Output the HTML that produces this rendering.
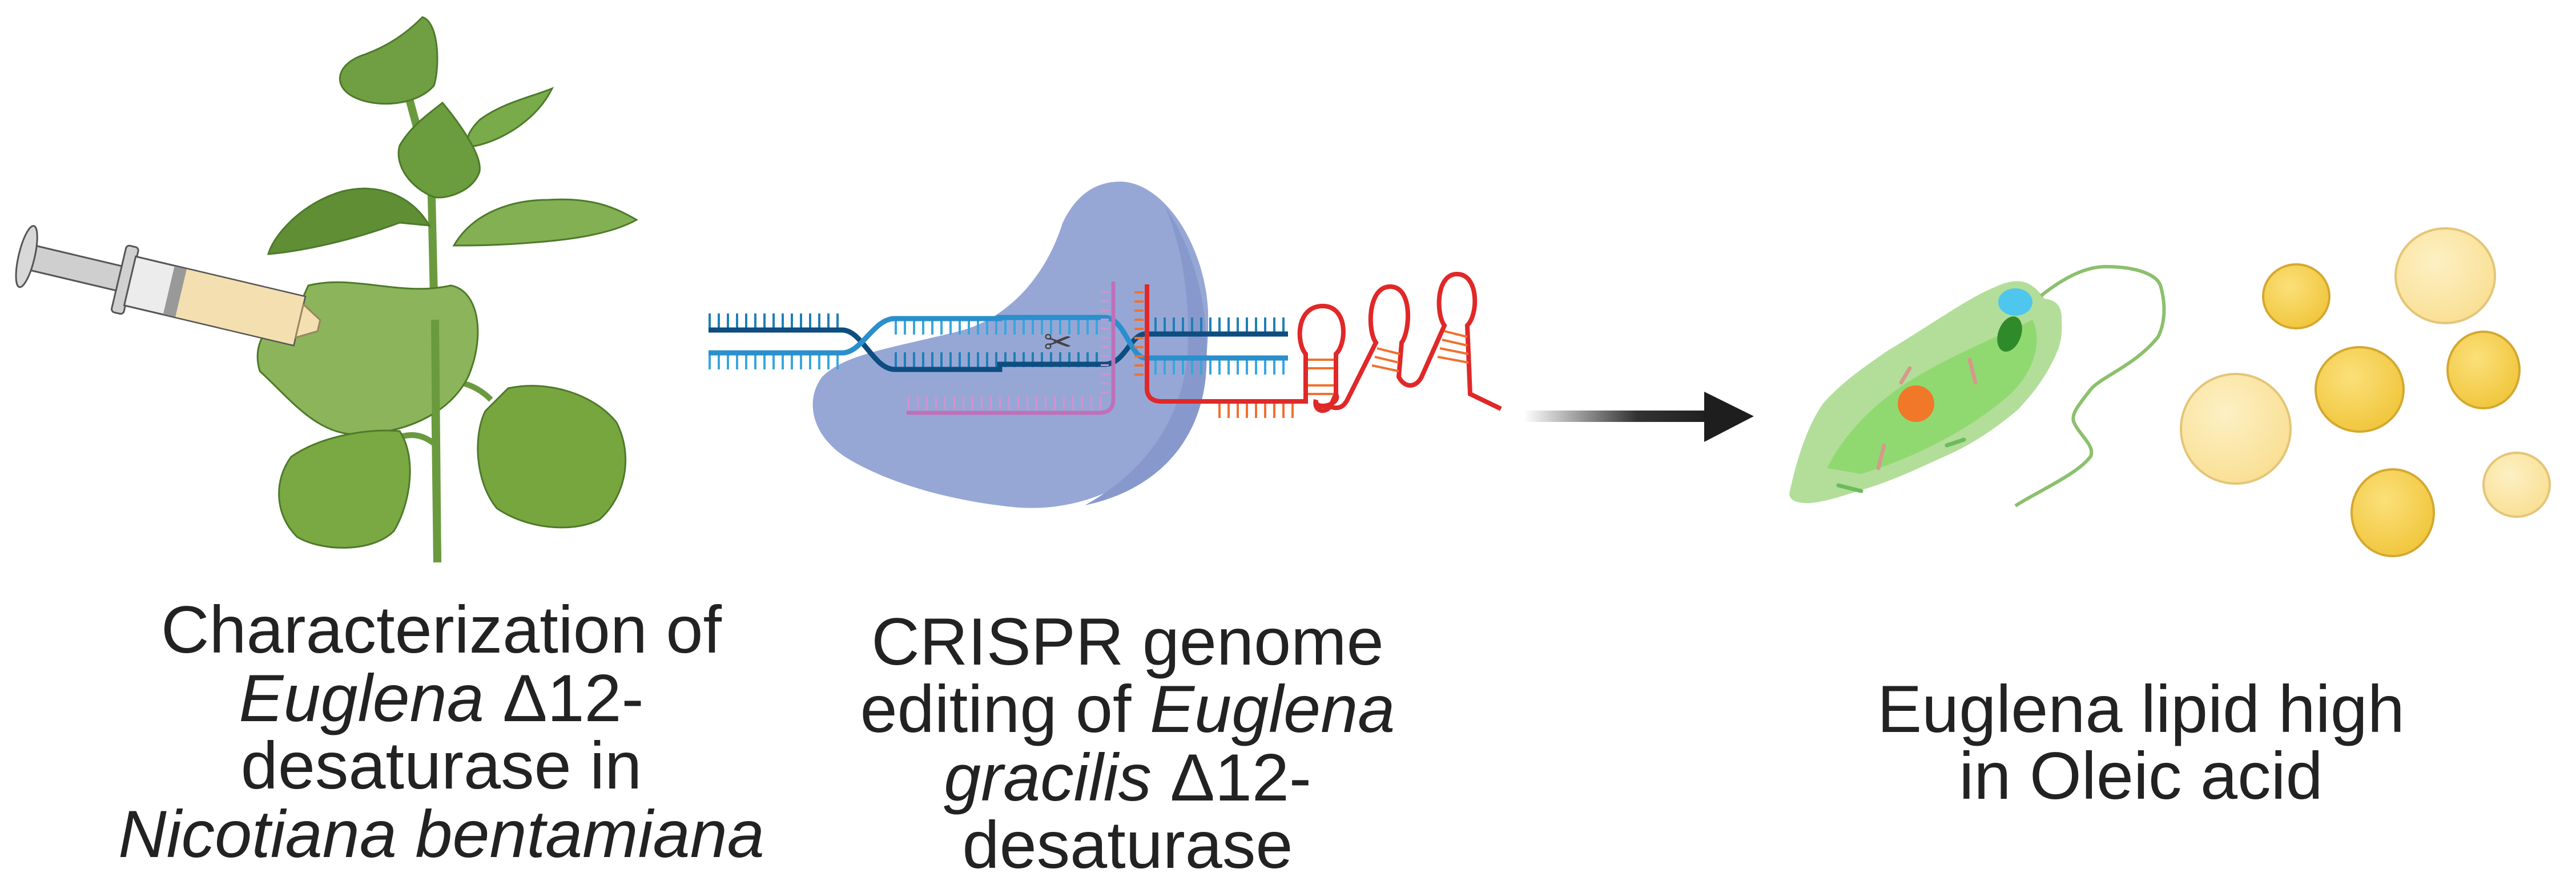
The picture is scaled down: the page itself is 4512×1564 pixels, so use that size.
<!DOCTYPE html>
<html><head><meta charset="utf-8"><style>
html,body{margin:0;padding:0;background:#fff;}
svg{display:block;}
text{font-family:"Liberation Sans",Arial,sans-serif;fill:#222;}
</style></head><body>
<svg width="4512" height="1564" viewBox="0 0 4512 1564" xmlns="http://www.w3.org/2000/svg">
<defs>
<linearGradient id="ag" x1="0" x2="1" y1="0" y2="0"><stop offset="0" stop-color="#fff"/><stop offset="0.6" stop-color="#333"/><stop offset="1" stop-color="#1e1e1e"/></linearGradient>
<radialGradient id="gold" cx="0.4" cy="0.35" r="0.7"><stop offset="0" stop-color="#fbe07a"/><stop offset="1" stop-color="#f0c53a"/></radialGradient>
<radialGradient id="pale" cx="0.4" cy="0.35" r="0.7"><stop offset="0" stop-color="#fdf0c4"/><stop offset="1" stop-color="#f9df92"/></radialGradient>
</defs>

<!-- PLANT -->
<path d="M766 985 L760 520 L756 344 L735 240 L713 159" fill="none" stroke="#6a9a3e" stroke-width="14"/>
<path d="M762 670 Q820 660 860 700" fill="none" stroke="#6a9a3e" stroke-width="10"/>
<path d="M764 780 Q730 750 690 770" fill="none" stroke="#6a9a3e" stroke-width="10"/>
<g stroke="#4d7a2a" stroke-width="3">
<path d="M740 30 C770 40 770 120 760 150 C730 185 660 190 620 170 C580 150 590 110 640 95 C680 80 710 60 740 30 Z" fill="#6f9f42"/>
<path d="M967 155 C930 170 880 180 840 210 C810 240 815 260 835 255 C880 245 940 210 967 155 Z" fill="#7aab4a"/>
<path d="M775 180 C800 210 845 270 840 300 C830 335 780 350 760 345 C720 330 690 290 700 255 C720 220 750 200 775 180 Z" fill="#6b9c3d"/>
<path d="M752 395 C720 340 660 320 600 335 C530 355 480 410 470 445 C530 440 620 420 700 390 Z" fill="#5f8e35"/>
<path d="M795 430 C830 370 900 350 960 350 C1040 345 1080 365 1115 385 C1070 410 1000 420 930 425 C870 430 830 430 795 430 Z" fill="#82b052"/>
<path d="M540 500 C620 480 700 520 790 500 C840 510 850 590 820 660 C790 720 720 755 640 760 C560 770 510 700 455 650 C440 600 470 560 520 545 Z" fill="#8cb45a"/>
<path d="M700 755 C730 800 720 880 690 930 C650 970 560 965 520 940 C480 900 480 840 510 800 C560 765 640 750 700 755 Z" fill="#7aa842"/>
<path d="M890 680 C960 665 1040 690 1080 740 C1110 800 1095 870 1050 910 C1000 935 920 925 870 890 C830 840 830 760 850 720 Z" fill="#78a63e"/>
</g>
<path d="M766 985 L762 560" stroke="#6a9a3e" stroke-width="14" fill="none"/>

<!-- SYRINGE -->
<g transform="translate(33,446) rotate(13.3)">
<rect x="12" y="-22" width="180" height="44" fill="#cfcfcf" stroke="#555" stroke-width="3"/>
<ellipse cx="14" cy="0" rx="14" ry="55" fill="#d8d8d8" stroke="#555" stroke-width="3"/>
<rect x="180" y="-60" width="22" height="120" rx="6" fill="#d0d0d0" stroke="#555" stroke-width="3"/>
<rect x="200" y="-44" width="305" height="88" fill="#ececec" stroke="#555" stroke-width="3"/>
<rect x="270" y="-43" width="22" height="86" fill="#999"/>
<rect x="292" y="-43" width="212" height="86" fill="#f3dfb0"/>
<path d="M505 -30 L540 -10 L540 10 L505 30 Z" fill="#f3dfb0" stroke="#9a8560" stroke-width="3"/>
</g>

<!-- CAS9 BLOB -->
<path d="M1963 318 C2040 320 2110 430 2116 544 C2120 680 2080 780 2000 830 C1920 880 1850 893 1785 889 C1680 880 1560 850 1480 800 C1420 760 1410 700 1440 660 C1480 620 1560 610 1680 580 C1760 560 1830 490 1861 391 C1885 340 1920 318 1963 318 Z" fill="#96a7d6"/>
<path d="M2040 360 C2100 450 2120 560 2112 660 C2100 780 2020 860 1900 885 C2000 830 2070 740 2080 620 C2085 520 2070 430 2040 360 Z" fill="#8799cc"/>

<!-- DNA -->
<g fill="none">
<line x1="1241" y1="563" x2="1475" y2="563" stroke="#1f7fb5" stroke-width="28" stroke-dasharray="4 12"/>
<line x1="1241" y1="633" x2="1475" y2="633" stroke="#39a6dc" stroke-width="28" stroke-dasharray="4 12"/>
<line x1="1567" y1="573" x2="1935" y2="573" stroke="#39a6dc" stroke-width="26" stroke-dasharray="4 12"/>
<line x1="1567" y1="630" x2="1935" y2="630" stroke="#1f7fb5" stroke-width="26" stroke-dasharray="4 12"/>
<line x1="2006" y1="570" x2="2256" y2="570" stroke="#1f7fb5" stroke-width="28" stroke-dasharray="4 12"/>
<line x1="2006" y1="642" x2="2256" y2="642" stroke="#39a6dc" stroke-width="28" stroke-dasharray="4 12"/>
<path d="M1241 578 L1475 578 C1510 578 1530 647 1567 647 L1751 647 L1751 638 L1935 638 C1970 638 1980 585 2006 585 L2256 585" stroke="#0d4d80" stroke-width="9"/>
<path d="M1241 618 L1475 618 C1510 618 1530 558 1567 558 L1751 558 L1751 556 L1935 556 C1970 556 1980 627 2006 627 L2256 627" stroke="#2a8fcc" stroke-width="9"/>
<line x1="1590" y1="706" x2="1930" y2="706" stroke="#d890cc" stroke-width="24" stroke-dasharray="3 13"/>
<path d="M1950 493 L1950 700 Q1950 723 1925 723 L1588 723" stroke="#c070b8" stroke-width="7"/>
<line x1="1935" y1="510" x2="1935" y2="700" stroke="#d890cc" stroke-width="14" stroke-dasharray="3 13"/>
<line x1="1995" y1="510" x2="1995" y2="670" stroke="#f07030" stroke-width="16" stroke-dasharray="4 12"/>
<line x1="2134" y1="718" x2="2276" y2="718" stroke="#f07030" stroke-width="28" stroke-dasharray="4 12"/>
<path d="M2009 498 L2009 680 Q2009 703 2035 703 L2287 703 L2287 620 C2270 600 2270 536 2317 536 C2360 536 2360 600 2340 620 L2340 690 C2350 710 2300 720 2305 700 M2340 690 L2330 712 C2320 725 2300 720 2305 700" stroke="#e02828" stroke-width="8"/>
<path d="M2330 712 Q2350 720 2360 700 L2410 600 C2395 580 2395 502 2435 502 C2475 502 2470 580 2455 600 L2450 660 C2460 680 2480 680 2490 660 L2530 570 C2515 550 2515 480 2552 480 C2590 480 2590 550 2570 570 L2575 690 L2629 716" stroke="#e02828" stroke-width="8"/>
<g stroke="#f07030" stroke-width="4">
<line x1="2291" y1="630" x2="2336" y2="630"/><line x1="2291" y1="645" x2="2336" y2="645"/><line x1="2291" y1="675" x2="2336" y2="675"/><line x1="2291" y1="690" x2="2336" y2="690"/>
<line x1="2412" y1="610" x2="2452" y2="620"/><line x1="2408" y1="625" x2="2450" y2="635"/><line x1="2403" y1="640" x2="2450" y2="650"/>
<line x1="2530" y1="580" x2="2570" y2="590"/><line x1="2526" y1="595" x2="2570" y2="605"/><line x1="2522" y1="610" x2="2572" y2="620"/><line x1="2518" y1="625" x2="2572" y2="635"/>
</g>
</g>
<text x="1853" y="620" font-size="60" text-anchor="middle" style="fill:#444">✂</text>

<!-- ARROW -->
<rect x="2669" y="719" width="330" height="20" fill="url(#ag)"/>
<polygon points="2985,686 3072,729 2985,774" fill="#1e1e1e"/>

<!-- EUGLENA -->
<path d="M3134 865 C3150 790 3170 740 3193 707 C3230 665 3270 640 3305 615 C3380 570 3450 520 3494 503 Q3520 490 3540 493 C3560 495 3575 515 3581 523 C3600 525 3612 535 3611 560 C3612 580 3611 595 3605 612 C3585 660 3560 690 3535 717 C3490 755 3450 780 3407 799 C3350 825 3300 848 3254 860 C3210 875 3180 882 3162 881 Q3135 880 3134 865 Z" fill="#b2de9a"/>
<path d="M3200 820 C3230 760 3280 710 3340 670 C3420 620 3500 590 3560 560 C3580 600 3560 660 3510 700 C3450 750 3360 800 3260 830 Z" fill="#8ad86a" opacity="0.85"/>
<ellipse cx="3356" cy="707" rx="32" ry="32" fill="#f07828"/>
<ellipse cx="3530" cy="529" rx="30" ry="24" fill="#4fc6ee"/>
<ellipse cx="3520" cy="585" rx="20" ry="32" fill="#2f8a2a" transform="rotate(20 3520 585)"/>
<g stroke-width="7" stroke-linecap="round" fill="none">
<line x1="3330" y1="670" x2="3345" y2="645" stroke="#d49a8a"/>
<line x1="3450" y1="630" x2="3460" y2="670" stroke="#d49a8a"/>
<line x1="3290" y1="820" x2="3300" y2="780" stroke="#d49a8a"/>
<line x1="3220" y1="850" x2="3260" y2="860" stroke="#6cbc5a"/>
<line x1="3410" y1="780" x2="3440" y2="770" stroke="#6cbc5a"/>
</g>
<path d="M3575 518 C3610 490 3650 467 3688 467 C3740 467 3780 480 3785 503 C3795 540 3790 570 3780 590 C3740 640 3680 660 3662 682 C3640 710 3628 725 3632 738 C3640 760 3670 780 3662 799 C3640 830 3570 860 3530 886" fill="none" stroke="#8cc06c" stroke-width="6"/>

<!-- DROPLETS -->
<g stroke-width="4">
<ellipse cx="4022" cy="519" rx="58" ry="56" fill="url(#gold)" stroke="#d4a830"/>
<ellipse cx="4283" cy="483" rx="87" ry="83" fill="url(#pale)" stroke="#e4c578"/>
<ellipse cx="3916" cy="751" rx="96" ry="96" fill="url(#pale)" stroke="#e4c578"/>
<ellipse cx="4133" cy="682" rx="77" ry="74" fill="url(#gold)" stroke="#d4a830"/>
<ellipse cx="4350" cy="648" rx="63" ry="67" fill="url(#gold)" stroke="#d4a830"/>
<ellipse cx="4191" cy="898" rx="72" ry="76" fill="url(#gold)" stroke="#d4a830"/>
<ellipse cx="4408" cy="849" rx="58" ry="56" fill="url(#pale)" stroke="#e4c578"/>
</g>

<!-- TEXT -->
<g font-size="117" text-anchor="middle">
<text x="773" y="1143">Characterization of</text>
<text x="773" y="1263"><tspan font-style="italic">Euglena</tspan> Δ12-</text>
<text x="773" y="1381">desaturase in</text>
<text x="773" y="1501" font-style="italic">Nicotiana bentamiana</text>
<text x="1975" y="1164">CRISPR genome</text>
<text x="1975" y="1282">editing of <tspan font-style="italic">Euglena</tspan></text>
<text x="1975" y="1402"><tspan font-style="italic">gracilis</tspan> Δ12-</text>
<text x="1975" y="1520">desaturase</text>
<text x="3750" y="1282">Euglena lipid high</text>
<text x="3750" y="1399">in Oleic acid</text>
</g>
</svg>
</body></html>
